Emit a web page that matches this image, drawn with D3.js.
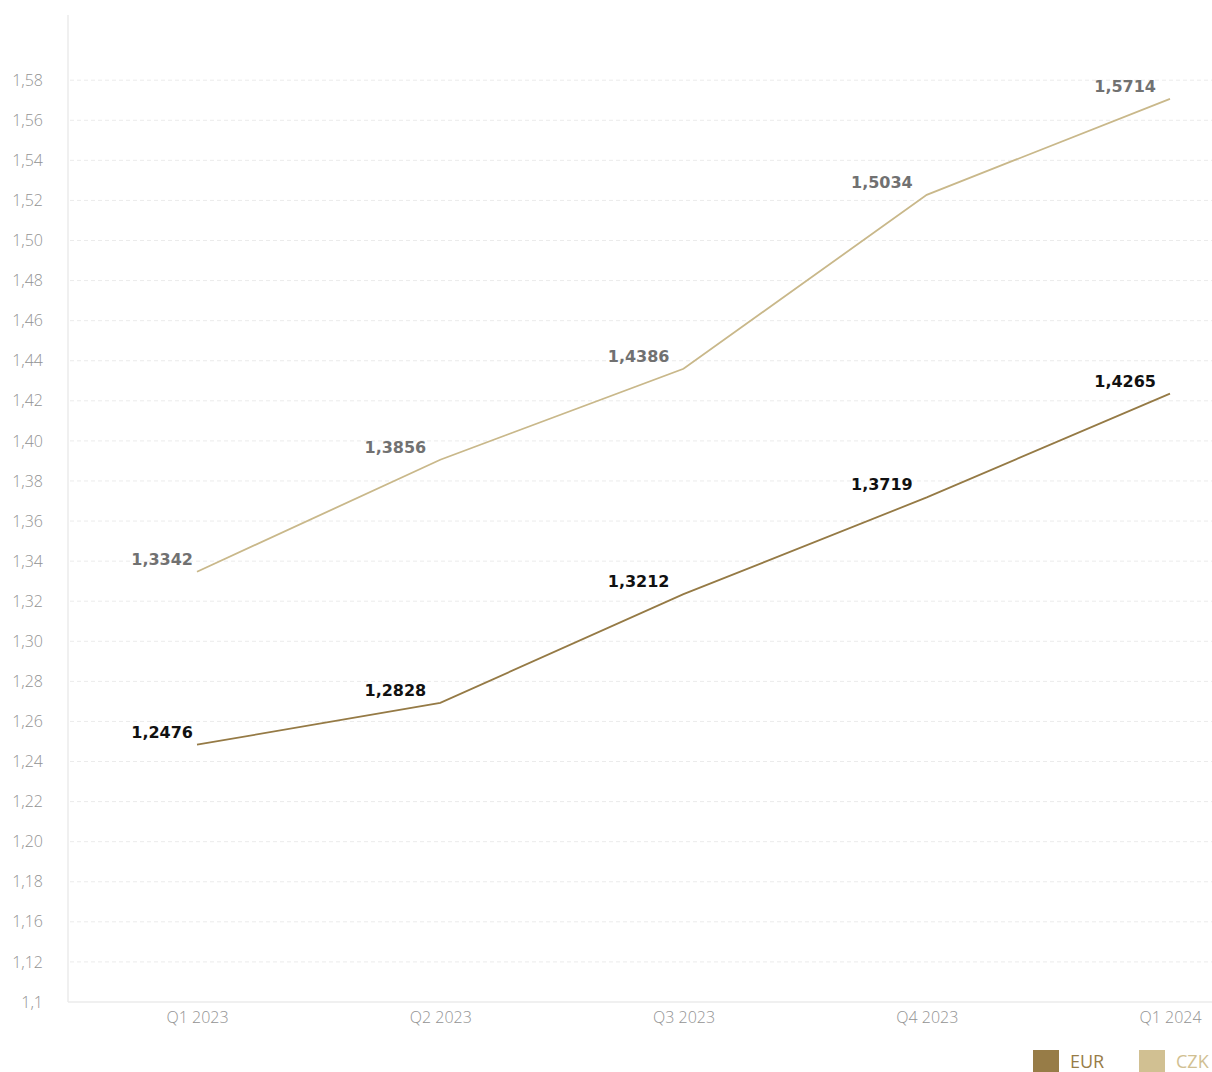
<!DOCTYPE html>
<html>
<head>
<meta charset="utf-8">
<script src="https://cdn.jsdelivr.net/npm/d3@7"></script>
<style>
  body { margin: 0; background: #fff; }
  svg { display: block; }
  .tick text { font-family: "Open Sans", "Lato", sans-serif; font-weight: 300; }
</style>
</head>
<body>
<div id="chart"></div>
<script>
// quarters on the x axis
const quarters = ["Q1 2023", "Q2 2023", "Q3 2023", "Q4 2023", "Q1 2024"];

// plotted values
const eurValues = [1.2484, 1.2693, 1.3235, 1.3718, 1.4236];
const czkValues = [1.3347, 1.3906, 1.4360, 1.5228, 1.5707];

// value labels as printed on the chart
const eurLabels = ["1,2476", "1,2828", "1,3212", "1,3719", "1,4265"];
const czkLabels = ["1,3342", "1,3856", "1,4386", "1,5034", "1,5714"];

// y ticks and the text printed next to them
const yTicks = [1.12, 1.14, 1.16, 1.18, 1.20, 1.22, 1.24, 1.26, 1.28, 1.30, 1.32, 1.34,
                1.36, 1.38, 1.40, 1.42, 1.44, 1.46, 1.48, 1.50, 1.52, 1.54, 1.56, 1.58];
const yTickLabels = ["1,1", "1,12", "1,16", "1,18", "1,20", "1,22", "1,24", "1,26", "1,28", "1,30", "1,32", "1,34",
                     "1,36", "1,38", "1,40", "1,42", "1,44", "1,46", "1,48", "1,50", "1,52", "1,54", "1,56", "1,58"];

const width = 1212, height = 1072;
const axisX = 68, axisBottomY = 1002, axisTopY = 15;

const svg = d3.select("#chart").append("svg")
    .attr("width", width)
    .attr("height", height);

const x = d3.scalePoint()
    .domain(quarters)
    .range([197, 1170]);

const y = d3.scaleLinear()
    .domain([1.12, 1.58])
    .range([axisBottomY, 80.2]);

// dashed gridlines
svg.append("g")
    .selectAll("line")
    .data(yTicks.slice(1))
    .enter()
    .append("line")
    .attr("x1", axisX + 2)
    .attr("x2", width)
    .attr("y1", d => y(d))
    .attr("y2", d => y(d))
    .attr("stroke", "#ebebeb")
    .attr("stroke-width", 1)
    .attr("stroke-dasharray", "4,3");

// y axis
const yAxis = svg.append("g")
    .attr("transform", `translate(${axisX},0)`)
    .call(d3.axisLeft(y)
        .tickValues(yTicks)
        .tickSize(0)
        .tickPadding(25)
        .tickFormat((d, i) => yTickLabels[i]));
yAxis.select(".domain").remove();
yAxis.selectAll("text")
    .attr("fill", "#939393")
    .style("font-size", "16px");

svg.append("line")
    .attr("x1", axisX).attr("x2", axisX)
    .attr("y1", axisTopY).attr("y2", axisBottomY)
    .attr("stroke", "#ebebeb")
    .attr("stroke-width", 1.5);

// x axis
const xAxis = svg.append("g")
    .attr("transform", `translate(0,${axisBottomY})`)
    .call(d3.axisBottom(x).tickSize(0).tickPadding(10));
xAxis.select(".domain").remove();
xAxis.selectAll("text")
    .attr("fill", "#939393")
    .style("font-size", "16px");

svg.append("line")
    .attr("x1", axisX).attr("x2", width)
    .attr("y1", axisBottomY).attr("y2", axisBottomY)
    .attr("stroke", "#ebebeb")
    .attr("stroke-width", 1.5);

const series = [
    { name: "EUR", values: eurValues, labels: eurLabels, line: "#957a45", swatch: "#977c47", label: "#111111" },
    { name: "CZK", values: czkValues, labels: czkLabels, line: "#c9b88a", swatch: "#d1c092", label: "#717171" }
];

const line = d3.line()
    .x((d, i) => x(quarters[i]))
    .y(d => y(d));

series.forEach(s => {
    svg.append("path")
        .datum(s.values)
        .attr("fill", "none")
        .attr("stroke", s.line)
        .attr("stroke-width", 1.8)
        .attr("d", line);

    // value labels, up and left of each point
    svg.append("g")
        .selectAll("text")
        .data(s.values)
        .enter()
        .append("text")
        .attr("x", (d, i) => x(quarters[i]) - (i === 0 ? 4 : 14))
        .attr("y", d => y(d) - 7)
        .attr("text-anchor", "end")
        .attr("fill", s.label)
        .style("font-family", "DejaVu Sans, sans-serif")
        .style("font-weight", "bold")
        .style("font-size", "16px")
        .text((d, i) => s.labels[i]);
});

// legend
const legend = svg.append("g")
    .selectAll("g")
    .data(series)
    .enter()
    .append("g")
    .attr("transform", (d, i) => `translate(${1033 + i * 106},1050)`);

legend.append("rect")
    .attr("width", 26)
    .attr("height", 22)
    .attr("fill", d => d.swatch);

legend.append("text")
    .attr("x", 37)
    .attr("y", 18)
    .attr("fill", d => d.swatch)
    .style("font-family", "Open Sans, Lato, sans-serif")
    .style("font-size", "18px")
    .text(d => d.name);
</script>
</body>
</html>
